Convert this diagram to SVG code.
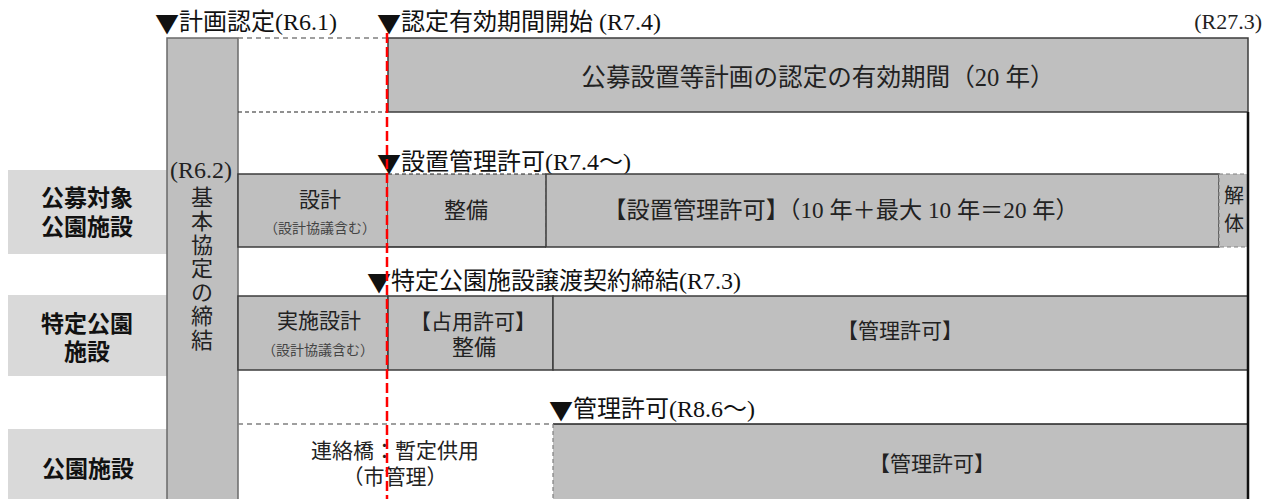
<svg xmlns="http://www.w3.org/2000/svg" width="1270" height="499" viewBox="0 0 1270 499">
<style>
text{font-family:"Liberation Serif","Noto Sans CJK JP",serif;fill:#222;dominant-baseline:central}
.lbl{font-family:"Noto Sans CJK JP",sans-serif;font-weight:bold;font-size:23px;text-anchor:middle;fill:#111}
.hd{font-size:24px;fill:#111}
.tri{font-family:"Noto Sans CJK JP",sans-serif}
.c{text-anchor:middle}
.bar{fill:#bfbfbf;stroke:#3c3c3c;stroke-width:1.5}
.side{fill:#d9d9d9}
.dg{stroke:#808080;stroke-width:1.5;stroke-dasharray:5 4;fill:none}
.db{stroke:#222;stroke-width:1.2;stroke-dasharray:4 3;fill:none}
.ln{stroke:#222;stroke-width:1.5;fill:none}
.t21{font-size:21px}
.t14{font-size:14px;fill:#444}
.v{font-size:22px;text-anchor:middle}
</style>

<g id="timeline-labels">
<text class="hd" x="155" y="22"><tspan class="tri">▼</tspan>計画認定(R6.1)</text>
<text class="hd" x="377" y="22"><tspan class="tri">▼</tspan>認定有効期間開始 (R7.4)</text>
<text x="1262" y="21" font-size="22" text-anchor="end" fill="#111">(R27.3)</text>
</g>

<g id="side-labels">
<g id="label-koubo">
<rect class="side" x="8" y="170" width="159" height="84"/>
<text class="lbl" x="87" y="196">公募対象</text>
<text class="lbl" x="87" y="225">公園施設</text>
</g>
<g id="label-tokutei">
<rect class="side" x="8" y="295" width="159" height="81"/>
<text class="lbl" x="87" y="322">特定公園</text>
<text class="lbl" x="87" y="350">施設</text>
</g>
<g id="label-kouen">
<rect class="side" x="8" y="429" width="159" height="72"/>
<text class="lbl" x="88" y="467">公園施設</text>
</g>
</g>

<g id="kihon-kyotei">
<rect x="167" y="38" width="71" height="470" fill="#bfbfbf" stroke="#6a6a6a" stroke-width="1.5"/>
<text x="201" y="170" font-size="24" class="c" fill="#111">(R6.2)</text>
<text class="v" x="202" y="197">基</text>
<text class="v" x="202" y="221">本</text>
<text class="v" x="202" y="245">協</text>
<text class="v" x="202" y="268">定</text>
<text class="v" x="202" y="292">の</text>
<text class="v" x="202" y="316">締</text>
<text class="v" x="202" y="340">結</text>
</g>

<g id="nintei-period">
<path class="dg" d="M238 38H388"/>
<path class="db" d="M238 112H388"/>
<rect class="bar" x="388" y="38" width="860" height="74"/>
<text class="c" x="818" y="77" font-size="24.6">公募設置等計画の認定の有効期間（20 年）</text>
</g>

<g id="row1">
<text class="hd" x="377" y="162"><tspan class="tri">▼</tspan>設置管理許可(R7.4～)</text>
<g id="sekkei1">
<rect class="bar" x="238" y="174" width="150" height="73"/>
<text class="c t21" x="320" y="200">設計</text>
<text class="c t14" x="320" y="228">（設計協議含む）</text>
</g>
<g id="seibi1">
<rect x="388" y="174" width="158" height="73" fill="#bfbfbf"/>
<path class="db" d="M388 174H546"/>
<path d="M546 174V247" stroke="#808080" stroke-width="1" stroke-dasharray="4 3"/>
<path class="ln" d="M388 247H546"/>
<text class="c" x="466" y="210" font-size="22">整備</text>
</g>
<g id="setchi-kanri">
<rect class="bar" x="546" y="174" width="673" height="73"/>
<text class="c" x="841" y="210" font-size="23.2">【設置管理許可】（10 年＋最大 10 年＝20 年）</text>
</g>
<g id="kaitai">
<rect x="1219" y="174" width="29" height="73" fill="#bfbfbf" stroke="#808080" stroke-width="1.2" stroke-dasharray="4 3"/>
<text class="c" x="1234" y="196" font-size="20">解</text>
<text class="c" x="1234" y="224" font-size="20">体</text>
</g>
</g>

<g id="row2">
<text class="hd" x="367" y="281"><tspan class="tri">▼</tspan>特定公園施設譲渡契約締結(R7.3)</text>
<g id="jisshi-sekkei">
<rect class="bar" x="238" y="296" width="150" height="74"/>
<text class="c t21" x="319" y="321">実施設計</text>
<text class="c t14" x="318" y="350">（設計協議含む）</text>
</g>
<g id="senyo">
<rect class="bar" x="388" y="296" width="165" height="74"/>
<text class="c t21" x="473" y="322">【占用許可】</text>
<text class="c" x="474" y="347" font-size="22">整備</text>
</g>
<g id="kanri2">
<rect class="bar" x="553" y="296" width="695" height="74"/>
<text class="c t21" x="900" y="331">【管理許可】</text>
</g>
</g>

<g id="row3">
<text class="hd" x="549" y="409"><tspan class="tri">▼</tspan>管理許可(R8.6～)</text>
<g id="renrakukyo">
<path class="dg" d="M238 424H553"/>
<text class="c t21" x="395" y="451">連絡橋：暫定供用</text>
<text class="c t21" x="395" y="477">（市管理）</text>
</g>
<g id="kanri3">
<rect x="553" y="424" width="695" height="84" fill="#bfbfbf"/>
<path class="ln" d="M553 424H1248"/>
<path d="M553 424V499" stroke="#808080" stroke-width="1.2" stroke-dasharray="4 3"/>
<text class="c t21" x="932" y="464">【管理許可】</text>
</g>
</g>

<g id="connectors">
<path d="M1248 112V499" stroke="#111" stroke-width="2.5"/>
<path d="M387 33V499" stroke="#ff0000" stroke-width="2.5" stroke-dasharray="10 4"/>
</g>
</svg>
